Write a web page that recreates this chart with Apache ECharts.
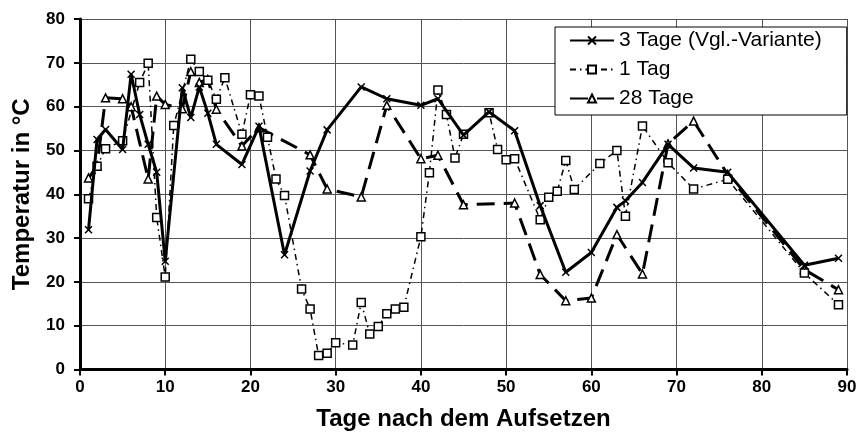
<!DOCTYPE html>
<html>
<head>
<meta charset="utf-8">
<script src="https://cdn.jsdelivr.net/npm/echarts@6/dist/echarts.min.js"></script>
<style>
  html, body { margin: 0; padding: 0; background: #fff; }
  #chart { width: 861px; height: 440px; }
</style>
</head>
<body>
<div id="chart"></div>
<script>
// values (day, °C)
const days3 = [1, 2, 3, 5, 6, 7, 8, 9, 10, 12, 13, 14, 15, 16, 19, 21, 24, 27, 29, 33, 36, 40, 42, 45, 48, 51, 54, 57, 60, 63, 64, 66, 69, 72, 76, 85, 89];
const temp3 = [31.9, 52.5, 54.8, 50.2, 67.4, 58.2, 51.4, 45, 24.7, 64.3, 57.5, 64.5, 58.5, 51.4, 46.8, 55.5, 26.2, 45.3, 54.7, 64.5, 61.8, 60.3, 61.8, 53.5, 58.8, 54.5, 37.4, 22.2, 26.7, 37, 38.5, 42.7, 51.4, 46, 45, 23.8, 25.4];

const days1 = [1, 2, 3, 5, 7, 8, 9, 10, 11, 13, 14, 15, 16, 17, 19, 20, 21, 22, 23, 24, 26, 27, 28, 29, 30, 32, 33, 34, 35, 36, 37, 38, 40, 41, 42, 43, 44, 45, 48, 49, 50, 51, 54, 55, 56, 57, 58, 61, 63, 64, 66, 69, 72, 76, 85, 89];
const temp1 = [39, 46.4, 50.4, 52.2, 65.5, 69.9, 34.7, 21.1, 55.7, 70.8, 68, 66, 61.7, 66.6, 53.7, 62.7, 62.4, 53, 43.5, 39.7, 18.4, 13.8, 3.2, 3.7, 6.1, 5.6, 15.3, 8.1, 9.8, 12.7, 13.8, 14.2, 30.3, 44.9, 63.8, 58.2, 48.3, 53.7, 58.6, 50.2, 47.9, 48.1, 34.2, 39.3, 40.7, 47.7, 41.1, 47, 50, 35, 55.6, 47.2, 41.2, 43.4, 22, 14.8];

const days28 = [1, 2, 3, 5, 6, 8, 9, 10, 12, 13, 14, 15, 16, 19, 21, 27, 29, 33, 36, 40, 42, 45, 51, 54, 57, 60, 63, 66, 69, 72, 76, 85, 89];
const temp28 = [43.7, 46.5, 62, 61.8, 60, 43.5, 62.4, 60.5, 59.5, 68, 65.5, 66.2, 59.4, 51, 55.2, 49, 41.2, 39.4, 60.3, 48.1, 48.9, 37.6, 38, 21.7, 15.7, 16.3, 30.8, 21.8, 51.5, 56.7, 44.5, 22.8, 18.2];

const seriesNames = ['3 Tage (Vgl.-Variante)', '1 Tag', '28 Tage'];
const xTicks = [0, 90, 10];
const yTicks = [0, 80, 10];

const pairs = (xs, ys) => xs.map((x, i) => [x, ys[i]]);

const FONT = '"Liberation Sans", Arial, sans-serif';
const crossSymbol = 'path://M0,0L10,10M10,0L0,10';

const chart = echarts.init(document.getElementById('chart'), null, { renderer: 'canvas' });

chart.setOption({
    animation: false,
    backgroundColor: '#fff',
    grid: { left: 80, right: 14, top: 19, bottom: 70.5, containLabel: false },
    legend: {
        orient: 'vertical',
        left: 555,
        top: 27,
        padding: [3, 25, 6, 14],
        itemWidth: 44,
        itemHeight: 10,
        itemGap: 8,
        backgroundColor: '#fff',
        borderColor: '#000',
        borderWidth: 1,
        textStyle: { fontFamily: FONT, fontSize: 21, color: '#000' },
        data: seriesNames,
    },
    xAxis: {
        type: 'value',
        min: xTicks[0], max: xTicks[1], interval: xTicks[2],
        name: 'Tage nach dem Aufsetzen',
        nameLocation: 'middle',
        nameGap: 38,
        nameTextStyle: { fontFamily: FONT, fontSize: 24, fontWeight: 'bold', color: '#000' },
        axisLine: { lineStyle: { color: '#000', width: 3 } },
        axisTick: { length: 6, lineStyle: { color: '#000', width: 2 } },
        axisLabel: { fontFamily: FONT, fontSize: 17, fontWeight: 'bold', color: '#000', margin: 9 },
        splitLine: { show: true, lineStyle: { color: '#555', width: 1 } },
    },
    yAxis: {
        type: 'value',
        min: yTicks[0], max: yTicks[1], interval: yTicks[2],
        name: 'Temperatur in °C',
        nameLocation: 'middle',
        nameGap: 46,
        nameTextStyle: { fontFamily: FONT, fontSize: 24, fontWeight: 'bold', color: '#000' },
        axisLine: { show: true, lineStyle: { color: '#000', width: 3 } },
        axisTick: { show: true, length: 6, lineStyle: { color: '#000', width: 2 } },
        axisLabel: { fontFamily: FONT, fontSize: 17, fontWeight: 'bold', color: '#000', margin: 15 },
        splitLine: { show: true, lineStyle: { color: '#555', width: 1 } },
    },
    series: [
        {
            name: seriesNames[0],
            type: 'line',
            data: pairs(days3, temp3),
            z: 4,
            symbol: crossSymbol,
            symbolSize: 7,
            lineStyle: { color: '#000', width: 3 },
            itemStyle: { color: '#000', borderColor: '#000', borderWidth: 1.5 },
        },
        {
            name: seriesNames[1],
            type: 'line',
            data: pairs(days1, temp1),
            z: 3,
            symbol: 'rect',
            symbolSize: 8,
            lineStyle: { color: '#000', width: 1.5, type: [6, 4, 1.5, 4] },
            itemStyle: { color: '#fff', borderColor: '#000', borderWidth: 1.5 },
        },
        {
            name: seriesNames[2],
            type: 'line',
            data: pairs(days28, temp28),
            z: 2,
            symbol: 'triangle',
            symbolSize: 8,
            lineStyle: { color: '#000', width: 3, type: [18, 9] },
            itemStyle: { color: '#fff', borderColor: '#000', borderWidth: 1.5 },
        },
    ],
});
</script>
</body>
</html>
